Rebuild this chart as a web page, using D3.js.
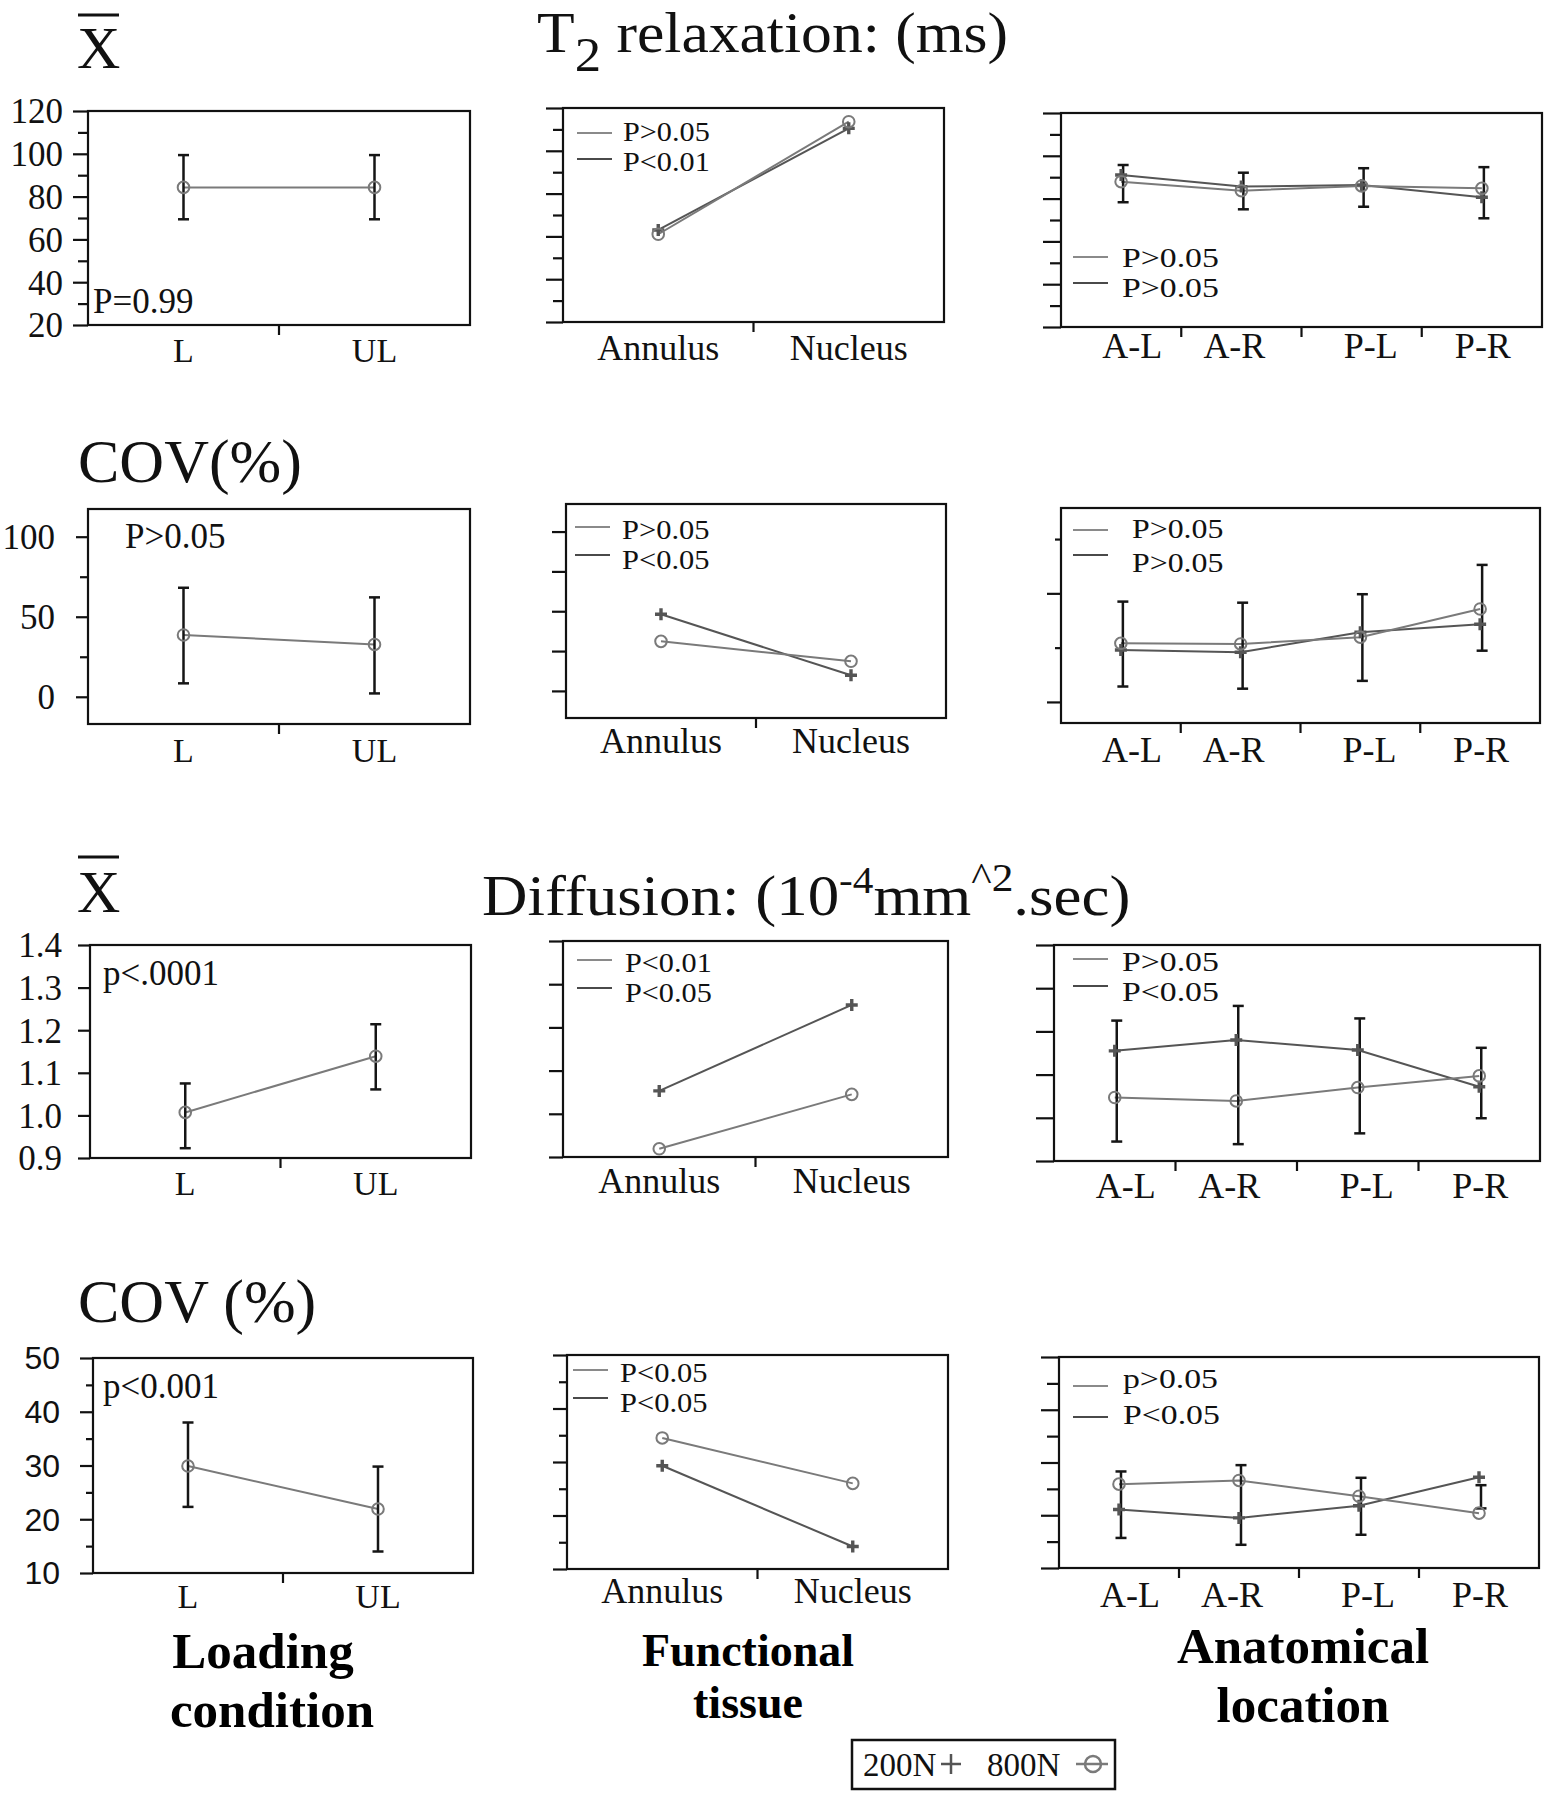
<!DOCTYPE html>
<html><head><meta charset="utf-8">
<script src="https://cdn.jsdelivr.net/npm/d3@7"></script>
<style>body{margin:0;background:#fff}</style>
</head><body>
<script>
// ---------- categories ----------
const loadCats = ["L", "UL"];
const tissueCats = ["Annulus", "Nucleus"];
const locCats = ["A-L", "A-R", "P-L", "P-R"];

// ---------- T2 relaxation: mean ----------
const t2Load800 = [84.3, 84.3];
const t2LoadErrLow = [69.4, 69.4];
const t2LoadErrHigh = [99.4, 99.4];
const t2Tissue200 = [63.0, 110.5];
const t2Tissue800 = [61.0, 113.6];
const t2Loc200 = [91.0, 85.6, 86.4, 80.6];
const t2Loc800 = [87.9, 83.7, 85.9, 84.8];
const t2LocErrLow = [78.3, 75.0, 76.2, 70.8];
const t2LocErrHigh = [95.7, 92.1, 94.2, 94.7];

// ---------- T2 relaxation: COV ----------
const covT2Load800 = [38.6, 32.7];
const covT2LoadErrLow = [8.4, 2.1];
const covT2LoadErrHigh = [68.1, 62.1];
const covT2Tissue200 = [48.1, 9.8];
const covT2Tissue800 = [31.1, 18.6];
const covT2Loc200 = [23.9, 22.9, 32.1, 35.8];
const covT2Loc800 = [27.0, 26.7, 29.8, 42.8];
const covT2LocErrLow = [7.1, 6.1, 9.7, 23.6];
const covT2LocErrHigh = [46.2, 45.7, 49.6, 63.1];

// ---------- Diffusion: mean ----------
const difLoad800 = [1.007, 1.139];
const difLoadErrLow = [0.923, 1.061];
const difLoadErrHigh = [1.075, 1.214];
const difTissue200 = [1.053, 1.252];
const difTissue800 = [0.919, 1.045];
const difLoc200 = [1.155, 1.180, 1.157, 1.072];
const difLoc800 = [1.047, 1.039, 1.070, 1.097];
const difLocErrLow = [0.945, 0.939, 0.964, 0.999];
const difLocErrHigh = [1.225, 1.259, 1.230, 1.162];

// ---------- Diffusion: COV ----------
const covDifLoad800 = [29.9, 21.9];
const covDifLoadErrLow = [22.3, 14.0];
const covDifLoadErrHigh = [38.0, 29.8];
const covDifTissue200 = [29.3, 14.2];
const covDifTissue800 = [34.5, 26.0];
const covDifLoc200 = [21.1, 19.5, 21.8, 27.2];
const covDifLoc800 = [25.9, 26.6, 23.6, 20.4];
const covDifLocErrLow = [15.7, 14.4, 16.3, 21.3];
const covDifLocErrHigh = [28.3, 29.5, 27.1, 25.7];

// ---------- ticks and tick labels ----------
const t2Ticks = [20, 30, 40, 50, 60, 70, 80, 90, 100, 110, 120];
const t2LabelValues = [20, 40, 60, 80, 100, 120];
const t2TickLabels = ["20", "40", "60", "80", "100", "120"];
const covT2Ticks = [0, 25, 50, 75, 100];
const covT2LabelValues = [0, 50, 100];
const covT2TickLabels = ["0", "50", "100"];
const covT2LocTicks = [0, 25, 50, 75];
const covT2LocMajors = [0, 50];
const difTicks = [0.9, 1.0, 1.1, 1.2, 1.3, 1.4];
const difTickLabels = ["0.9", "1.0", "1.1", "1.2", "1.3", "1.4"];
const covDifTicks = [10, 15, 20, 25, 30, 35, 40, 45, 50];
const covDifLabelValues = [10, 20, 30, 40, 50];
const covDifTickLabels = ["10", "20", "30", "40", "50"];

// ---------- p-value texts ----------
const t2TissueP = ["P>0.05", "P<0.01"];
const t2LocP = ["P>0.05", "P>0.05"];
const covT2TissueP = ["P>0.05", "P<0.05"];
const covT2LocP = ["P>0.05", "P>0.05"];
const difTissueP = ["P<0.01", "P<0.05"];
const difLocP = ["P>0.05", "P<0.05"];
const covDifTissueP = ["P<0.05", "P<0.05"];
const covDifLocP = ["p>0.05", "P<0.05"];
const loadNotes = ["P=0.99", "P>0.05", "p<.0001", "p<0.001"];

// ---------- titles ----------
const seriesNames = ["200N", "800N"];
const axisTitles = [["Loading", "condition"], ["Functional", "tissue"], ["Anatomical", "location"]];

// ================= drawing =================
const SERIF = "'Liberation Serif','Times New Roman',serif";
const SANS = "'Liberation Sans',Arial,sans-serif";
const C_LIGHT = "#7a7a7a", C_DARK = "#555", C_ERR = "#151515";
const LOC_LABEL_SHIFT = [11, -7, 9, 1];

const svg = d3.select("body").append("svg").attr("width", 1546).attr("height", 1800)
  .style("font-family", SERIF);
svg.append("rect").attr("width", 1546).attr("height", 1800).attr("fill", "#fff");

// legend layout: swatch x, swatch ys, text x, text baselines, font size, horizontal scale
const layout = [
  {box:[88,111,470,325], cats:loadCats, domain:[20,120], ticks:t2Ticks, majors:t2LabelValues, labels:t2TickLabels,
   majorLen:15, minorLen:10, gap:25, lfont:35, series:[{v:t2Load800,k:"c"}], err:[t2LoadErrLow,t2LoadErrHigh],
   note:{t:loadNotes[0],x:93,y:313}, xl:37, xf:34},
  {box:[563,108,944,322], cats:tissueCats, domain:[20,120], ticks:t2Ticks, majors:t2LabelValues,
   majorLen:17, minorLen:10, series:[{v:t2Tissue200,k:"p"},{v:t2Tissue800,k:"c"}],
   leg:{p:t2TissueP,x:577,ly:[133,159],tx:623,tb:[141,171],f:27,sx:1.12}, xl:38, xf:36},
  {box:[1061,113,1542,327], cats:locCats, domain:[20,120], ticks:t2Ticks, majors:t2LabelValues,
   majorLen:18, minorLen:11, series:[{v:t2Loc200,k:"p"},{v:t2Loc800,k:"c"}], err:[t2LocErrLow,t2LocErrHigh],
   leg:{p:t2LocP,x:1073,ly:[257,283],tx:1122,tb:[267,297],f:27,sx:1.25}, xl:31, xf:36},

  {box:[88,509,470,724], cats:loadCats, domain:[-17,117.3], ticks:covT2Ticks, majors:covT2LabelValues, labels:covT2TickLabels,
   majorLen:12, minorLen:8, gap:33, lfont:35, series:[{v:covT2Load800,k:"c"}], err:[covT2LoadErrLow,covT2LoadErrHigh],
   note:{t:loadNotes[1],x:125,y:548}, xl:38, xf:34},
  {box:[566,504,946,718], cats:tissueCats, domain:[-17,117.3], ticks:covT2Ticks, majors:covT2Ticks,
   majorLen:14, minorLen:14, series:[{v:covT2Tissue200,k:"p"},{v:covT2Tissue800,k:"c"}],
   leg:{p:covT2TissueP,x:575,ly:[527,555],tx:622,tb:[539,569],f:27,sx:1.13}, xl:35, xf:36},
  {box:[1061,508,1540,723], cats:locCats, domain:[-9.7,89.3], ticks:covT2LocTicks, majors:covT2LocMajors,
   majorLen:14, minorLen:6, series:[{v:covT2Loc200,k:"p"},{v:covT2Loc800,k:"c"}], err:[covT2LocErrLow,covT2LocErrHigh],
   leg:{p:covT2LocP,x:1073,ly:[530,555],tx:1132,tb:[538,572],f:27,sx:1.18}, xl:39, xf:36},

  {box:[90,945,471,1158], cats:loadCats, domain:[0.9,1.4], ticks:difTicks, majors:difTicks, labels:difTickLabels,
   majorLen:12, minorLen:12, gap:28, lfont:35, series:[{v:difLoad800,k:"c"}], err:[difLoadErrLow,difLoadErrHigh],
   note:{t:loadNotes[2],x:103,y:985}, xl:37, xf:34},
  {box:[563,941,948,1157], cats:tissueCats, domain:[0.9,1.4], ticks:difTicks, majors:difTicks,
   majorLen:14, minorLen:14, series:[{v:difTissue200,k:"p"},{v:difTissue800,k:"c"}],
   leg:{p:difTissueP,x:577,ly:[960,988],tx:625,tb:[972,1002],f:27,sx:1.12}, xl:36, xf:36},
  {box:[1054,945,1540,1161], cats:locCats, domain:[0.9,1.4], ticks:difTicks, majors:difTicks,
   majorLen:18, minorLen:18, series:[{v:difLoc200,k:"p"},{v:difLoc800,k:"c"}], err:[difLocErrLow,difLocErrHigh],
   leg:{p:difLocP,x:1073,ly:[959,986],tx:1122,tb:[971,1001],f:27,sx:1.25}, xl:37, xf:36},

  {box:[93,1358,473,1573], cats:loadCats, domain:[10,50], ticks:covDifTicks, majors:covDifLabelValues, labels:covDifTickLabels,
   majorLen:13, minorLen:7, gap:33, lfont:32, lfam:SANS, series:[{v:covDifLoad800,k:"c"}], err:[covDifLoadErrLow,covDifLoadErrHigh],
   note:{t:loadNotes[3],x:103,y:1398}, xl:35, xf:34},
  {box:[567,1355,948,1569], cats:tissueCats, domain:[10,50], ticks:covDifTicks, majors:covDifLabelValues,
   majorLen:14, minorLen:8, series:[{v:covDifTissue200,k:"p"},{v:covDifTissue800,k:"c"}],
   leg:{p:covDifTissueP,x:573,ly:[1370,1398],tx:620,tb:[1382,1412],f:27,sx:1.13}, xl:34, xf:36},
  {box:[1059,1357,1539,1568], cats:locCats, domain:[10,50], ticks:covDifTicks, majors:covDifLabelValues,
   majorLen:18, minorLen:12, series:[{v:covDifLoc200,k:"p"},{v:covDifLoc800,k:"c"}], err:[covDifLocErrLow,covDifLocErrHigh],
   leg:{p:covDifLocP,x:1073,ly:[1386,1417],tx:1123,tb:[1388,1424],f:27,sx:1.25}, xl:39, xf:36}
];

function isIn(arr, v) { return arr.some(a => Math.abs(a - v) < 1e-9); }

function drawPanel(p) {
  const [x0, y0, x1, y1] = p.box;
  const x = d3.scaleBand().domain(p.cats).range([x0, x1]);
  const y = d3.scaleLinear().domain(p.domain).range([y1, y0]);
  const bw = x.bandwidth();
  const cx = c => x(c) + bw / 2;
  const g = svg.append("g");

  // minor ticks
  const minors = p.ticks.filter(v => !isIn(p.majors, v));
  const gMin = g.append("g").attr("transform", `translate(${x0},0)`)
    .call(d3.axisLeft(y).tickValues(minors).tickSize(p.minorLen).tickSizeOuter(0).tickFormat(""));
  // major ticks (+ labels)
  const majAxis = d3.axisLeft(y).tickValues(p.majors).tickSize(p.majorLen).tickSizeOuter(0);
  if (p.labels) majAxis.tickPadding(p.gap - p.majorLen).tickFormat((d, i) => p.labels[i]);
  else majAxis.tickFormat("");
  const gMaj = g.append("g").attr("transform", `translate(${x0},0)`).call(majAxis);
  [gMin, gMaj].forEach(a => {
    a.select(".domain").remove();
    a.selectAll("line").attr("stroke", "#111").attr("stroke-width", 2.2);
  });
  gMaj.selectAll("text").attr("font-family", p.lfam || SERIF).attr("font-size", p.lfont || 35)
    .attr("fill", "#111").attr("dy", "0.34em");

  // x axis labels at band centres
  const gx = g.append("g").attr("transform", `translate(0,${y1})`)
    .call(d3.axisBottom(x).tickSize(0).tickPadding(0));
  gx.select(".domain").remove();
  gx.selectAll("text").attr("font-family", SERIF).attr("font-size", p.xf).attr("fill", "#111")
    .attr("y", p.xl).attr("dy", 0)
    .attr("x", (d, i) => p.cats.length > 2 ? LOC_LABEL_SHIFT[i] : 0);
  // boundary ticks
  g.selectAll(".bt").data(p.cats.slice(1)).enter().append("line")
    .attr("x1", d => x(d)).attr("x2", d => x(d)).attr("y1", y1).attr("y2", y1 + 10)
    .attr("stroke", "#111").attr("stroke-width", 2.2);

  // frame
  g.append("rect").attr("x", x0).attr("y", y0).attr("width", x1 - x0).attr("height", y1 - y0)
    .attr("fill", "none").attr("stroke", "#111").attr("stroke-width", 2.2);

  // lines
  const line = d3.line().x((d, i) => cx(p.cats[i])).y(d => y(d));
  p.series.forEach(s => {
    g.append("path").attr("d", line(s.v)).attr("fill", "none")
      .attr("stroke", s.k === "p" ? C_DARK : C_LIGHT).attr("stroke-width", 2);
  });

  // error bars
  if (p.err) {
    const [lo, hi] = p.err;
    p.cats.forEach((c, i) => {
      const xx = cx(c) + (p.cats.length > 2 ? 2 : 0);
      g.append("line").attr("x1", xx).attr("x2", xx).attr("y1", y(lo[i])).attr("y2", y(hi[i]))
        .attr("stroke", C_ERR).attr("stroke-width", 2.5);
      [lo[i], hi[i]].forEach(v => g.append("line").attr("x1", xx - 5.5).attr("x2", xx + 5.5)
        .attr("y1", y(v)).attr("y2", y(v)).attr("stroke", C_ERR).attr("stroke-width", 2.5));
    });
  }

  // markers
  p.series.forEach(s => {
    s.v.forEach((v, i) => {
      const px = cx(p.cats[i]), py = y(v);
      if (s.k === "c") {
        g.append("circle").attr("cx", px).attr("cy", py).attr("r", 5.8)
          .attr("fill", "none").attr("stroke", C_LIGHT).attr("stroke-width", 2);
      } else {
        g.append("path").attr("d", `M${px - 6},${py}H${px + 6}M${px},${py - 6}V${py + 6}`)
          .attr("stroke", C_DARK).attr("stroke-width", 3.4);
      }
    });
  });

  // in-plot p-value note
  if (p.note) {
    g.append("text").attr("x", p.note.x).attr("y", p.note.y).attr("font-size", 35)
      .attr("fill", "#111").text(p.note.t);
  }
  // legend
  if (p.leg) {
    const L = p.leg;
    L.p.forEach((t, i) => {
      g.append("line").attr("x1", L.x).attr("x2", L.x + 35).attr("y1", L.ly[i]).attr("y2", L.ly[i])
        .attr("stroke", i === 0 ? "#8a8a8a" : "#4a4a4a").attr("stroke-width", 2);
      g.append("text")
        .attr("transform", `translate(${L.tx},${L.tb[i]}) scale(${L.sx},1)`)
        .attr("font-size", L.f).attr("fill", "#111").text(t);
    });
  }
}
layout.forEach(drawPanel);

// ---------- titles ----------
function xbar(xp, base, barY) {
  svg.append("text").attr("x", xp).attr("y", base).attr("font-size", 60).attr("fill", "#111").text("X");
  svg.append("line").attr("x1", xp + 1).attr("x2", xp + 42).attr("y1", barY).attr("y2", barY)
    .attr("stroke", "#111").attr("stroke-width", 2.8);
}
xbar(77, 68, 15);
xbar(77, 912, 857);

const t2 = svg.append("text").attr("transform", "translate(537,52) scale(1.1,1)")
  .attr("font-size", 56).attr("fill", "#111");
t2.append("tspan").text("T");
t2.append("tspan").attr("dy", 19).attr("font-size", 48).text("2");
t2.append("tspan").attr("dy", -19).text(" relaxation: (ms)");

const dif = svg.append("text").attr("transform", "translate(482,915) scale(1.085,1)")
  .attr("font-size", 58).attr("fill", "#111");
dif.append("tspan").text("Diffusion: (10");
dif.append("tspan").attr("dy", -22).attr("font-size", 38).text("-4");
dif.append("tspan").attr("dy", 22).text("mm");
dif.append("tspan").attr("dy", -24).attr("font-size", 40).text("^2");
dif.append("tspan").attr("dy", 24).text(".sec)");

svg.append("text").attr("x", 78).attr("y", 482).attr("font-size", 62).attr("fill", "#111").text("COV(%)");
svg.append("text").attr("x", 78).attr("y", 1322).attr("font-size", 62).attr("fill", "#111").text("COV (%)");

// ---------- bottom axis titles ----------
const titlePos = [{x:[263,272], y:[1668,1727], f:51}, {x:[748,748], y:[1666,1718], f:46}, {x:[1303,1303], y:[1663,1722], f:51}];
axisTitles.forEach((lines, i) => {
  lines.forEach((t, j) => {
    svg.append("text").attr("x", titlePos[i].x[j]).attr("y", titlePos[i].y[j]).attr("text-anchor", "middle")
      .attr("font-size", titlePos[i].f).attr("font-weight", "bold").attr("fill", "#000").text(t);
  });
});

// ---------- series legend ----------
const lg = svg.append("g");
lg.append("rect").attr("x", 852).attr("y", 1740).attr("width", 263).attr("height", 49)
  .attr("fill", "none").attr("stroke", "#111").attr("stroke-width", 2.5);
lg.append("text").attr("x", 863).attr("y", 1776).attr("font-size", 33).attr("fill", "#111").text(seriesNames[0]);
lg.append("path").attr("d", "M941,1764H961M951,1754V1774").attr("stroke", C_DARK).attr("stroke-width", 2.5);
lg.append("text").attr("x", 987).attr("y", 1776).attr("font-size", 33).attr("fill", "#111").text(seriesNames[1]);
lg.append("line").attr("x1", 1076).attr("x2", 1108).attr("y1", 1764).attr("y2", 1764).attr("stroke", C_LIGHT).attr("stroke-width", 2.5);
lg.append("circle").attr("cx", 1093).attr("cy", 1764).attr("r", 8).attr("fill", "none").attr("stroke", C_LIGHT).attr("stroke-width", 2.5);
</script>
</body></html>
